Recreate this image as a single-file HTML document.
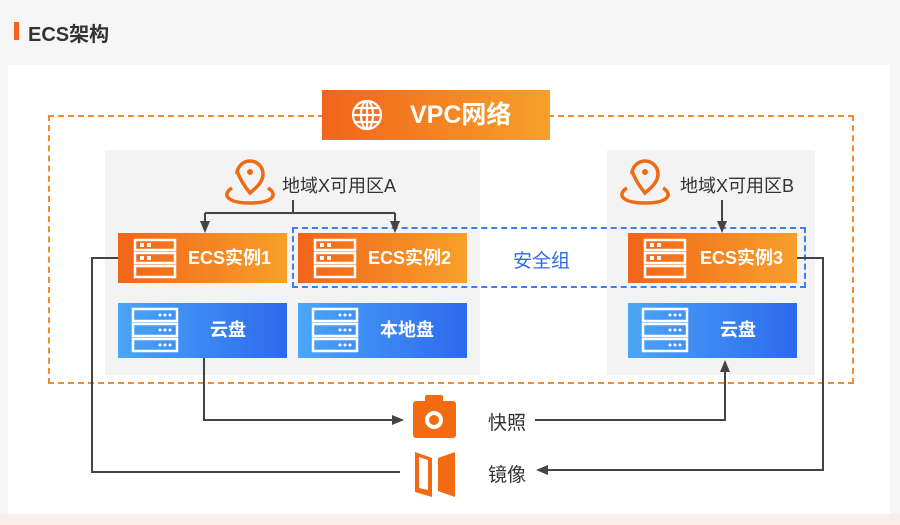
<!DOCTYPE html>
<html><head><meta charset="utf-8"><style>
body{margin:0;width:900px;height:525px;overflow:hidden;background:#f6f6f6;font-family:"Liberation Sans","Noto Sans CJK SC",sans-serif;position:relative}
.a{position:absolute;white-space:nowrap}
.o{background:linear-gradient(90deg,#f2641a,#f7a02a);color:#fff;font-weight:bold}
.b{background:linear-gradient(90deg,#4aa6f7,#2d69ee);color:#fff;font-weight:bold}
.t{font-size:18px;line-height:50px}
</style></head><body>
<div class="a" style="left:14px;top:22px;width:5px;height:18px;background:#f2641a"></div>
<div class="a" style="left:28px;top:18px;font-size:20px;font-weight:bold;color:#333">ECS架构</div>
<div class="a" style="left:8px;top:65px;width:882px;height:450px;background:#fff"></div>
<div class="a" style="left:0;top:514px;width:900px;height:11px;background:#faeee8"></div>
<div class="a" style="left:105px;top:150px;width:375px;height:225px;background:#f3f3f3"></div>
<div class="a" style="left:607px;top:150px;width:208px;height:225px;background:#f3f3f3"></div>
<div class="a" style="left:48px;top:115px;width:806px;height:269px;border:2px dashed #f28a2e;box-sizing:border-box"></div>
<div class="a" style="left:292px;top:227px;width:514px;height:61px;border:2px dashed #3d7ef0;box-sizing:border-box"></div>
<div class="a o" style="left:322px;top:90px;width:228px;height:50px;font-size:25px;line-height:50px"><span class="a" style="left:88px">VPC网络</span>
<svg class="a" style="left:28px;top:8px" width="34" height="34" viewBox="0 0 34 34" fill="none" stroke="#fff" stroke-width="2.2"><circle cx="17" cy="17" r="14"/><ellipse cx="17" cy="17" rx="6" ry="14"/><line x1="17" y1="3" x2="17" y2="31"/><line x1="3" y1="17" x2="31" y2="17"/><line x1="5" y1="10" x2="29" y2="10"/><line x1="5" y1="24" x2="29" y2="24"/></svg></div>
<svg class="a" style="left:0;top:0" width="900" height="525">
<defs><marker id="m" markerUnits="userSpaceOnUse" markerWidth="12" markerHeight="12" refX="10" refY="6" orient="auto"><path d="M0,1L12,6L0,11z" fill="#444"/></marker></defs>
<g fill="none" stroke="#ee6a14" stroke-width="3.5">
<path d="M250,193 C236,176 237,166 237,174 A13,13 0 1 1 263,174 C263,182 256,188 250,193z"/><circle cx="250" cy="172" r="3" fill="#ee6a14" stroke="none"/>
<path d="M232,188 C222,194 226,203 250,203 C274,203 278,194 268,188"/>
<path d="M645,193 C631,176 632,166 632,174 A13,13 0 1 1 658,174 C658,182 651,188 645,193z"/><circle cx="645" cy="172" r="3" fill="#ee6a14" stroke="none"/>
<path d="M627,188 C617,194 621,203 645,203 C669,203 673,194 663,188"/>
</g>
<g fill="none" stroke="#444" stroke-width="2">
<path d="M293,200V213M205,213H395M205,213V231" marker-end="url(#m)"/>
<path d="M395,213V231" marker-end="url(#m)"/>
<path d="M722,200V231" marker-end="url(#m)"/>
<path d="M118,258H92V472H400"/>
<path d="M204,358V420H402" marker-end="url(#m)"/>
<path d="M535,420H725V362" marker-end="url(#m)"/>
<path d="M797,258H823V470H538" marker-end="url(#m)"/>
</g>
<rect x="413" y="401" width="43" height="37" rx="3" fill="#f26a12"/><rect x="425" y="395" width="18" height="8" rx="2" fill="#f26a12"/>
<circle cx="434" cy="420" r="9" fill="#fff"/><circle cx="434" cy="420" r="5" fill="#f26a12"/>
<path d="M415,452L432,458V497L415,492Z M419,457L428,460V490L419,488Z" fill="#f26a12" fill-rule="evenodd"/>
<path d="M438,458L455,452V497L438,491Z" fill="#f26a12"/>
</svg>
<div class="a" style="left:282px;top:172px;font-size:18px;color:#333">地域X可用区A</div>
<div class="a" style="left:680px;top:172px;font-size:18px;color:#333">地域X可用区B</div>
<div class="a" style="left:513px;top:246px;font-size:19px;color:#2d6ae8">安全组</div>
<div class="a" style="left:488px;top:408px;font-size:19px;color:#333">快照</div>
<div class="a" style="left:488px;top:460px;font-size:19px;color:#333">镜像</div>

<div class="a o t" style="left:118px;top:233px;width:169px;height:50px"><span class="a" style="left:70px">ECS实例1</span></div>
<div class="a o t" style="left:298px;top:233px;width:169px;height:50px"><span class="a" style="left:70px">ECS实例2</span></div>
<div class="a o t" style="left:628px;top:233px;width:169px;height:50px"><span class="a" style="left:72px">ECS实例3</span></div>
<div class="a b t" style="left:118px;top:303px;width:169px;height:55px;line-height:55px"><span class="a" style="left:92px">云盘</span></div>
<div class="a b t" style="left:298px;top:303px;width:169px;height:55px;line-height:55px"><span class="a" style="left:82px">本地盘</span></div>
<div class="a b t" style="left:628px;top:303px;width:169px;height:55px;line-height:55px"><span class="a" style="left:92px">云盘</span></div>
<svg class="a" style="left:0;top:0" width="900" height="525" fill="none" stroke="#fff" stroke-width="2.5">
<g id="s"><rect x="135" y="240" width="40" height="10"/><rect x="135" y="253" width="40" height="10"/><rect x="135" y="266" width="40" height="11"/><g fill="#fff" stroke="none"><rect x="140" y="243" width="4" height="4"/><rect x="147" y="243" width="4" height="4"/><rect x="140" y="256" width="4" height="4"/><rect x="147" y="256" width="4" height="4"/></g></g>
<use href="#s" x="180"/><use href="#s" x="510"/>
<g id="d"><rect x="133" y="309" width="44" height="12"/><rect x="133" y="324" width="44" height="12"/><rect x="133" y="339" width="44" height="12"/><g fill="#fff" stroke="none"><circle cx="160" cy="315" r="1.5"/><circle cx="165" cy="315" r="1.5"/><circle cx="170" cy="315" r="1.5"/><circle cx="160" cy="330" r="1.5"/><circle cx="165" cy="330" r="1.5"/><circle cx="170" cy="330" r="1.5"/><circle cx="160" cy="345" r="1.5"/><circle cx="165" cy="345" r="1.5"/><circle cx="170" cy="345" r="1.5"/></g></g>
<use href="#d" x="180"/><use href="#d" x="510"/>
</svg>
</body></html>
